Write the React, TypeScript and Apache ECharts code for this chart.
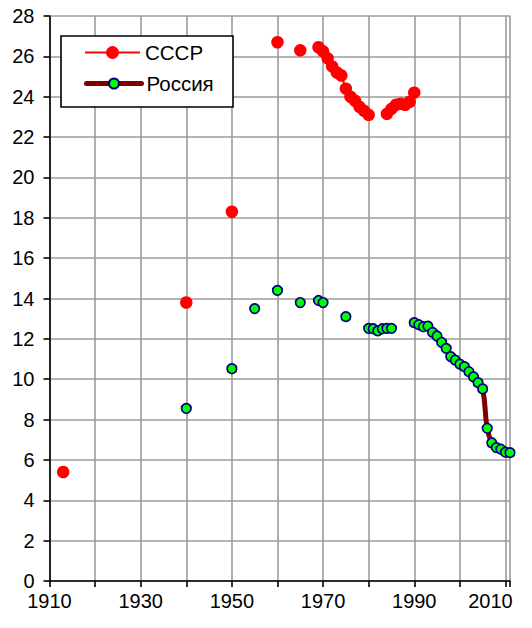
import React, { useEffect, useRef } from 'react';
import * as echarts from 'echarts';

// ---- Data ----
const ussrYears = [1913, 1940, 1950, 1960, 1965, 1969, 1970, 1971, 1972, 1973, 1974, 1975, 1976, 1977, 1978, 1979, 1980, 1984, 1985, 1986, 1987, 1988, 1989, 1990];
const ussrValues = [5.4, 13.8, 18.3, 26.7, 26.3, 26.45, 26.25, 25.9, 25.5, 25.2, 25.05, 24.4, 24.0, 23.8, 23.5, 23.3, 23.1, 23.15, 23.4, 23.6, 23.65, 23.6, 23.75, 24.2];

const russiaYears = [1940, 1950, 1955, 1960, 1965, 1969, 1970, 1975, 1980, 1981, 1982, 1983, 1984, 1985,
  1990, 1991, 1992, 1993, 1994, 1995, 1996, 1997, 1998, 1999, 2000,
  2001, 2002, 2003, 2004, 2005, 2006, 2007, 2008, 2009, 2010, 2011];
const russiaValues = [8.55, 10.52, 13.5, 14.4, 13.8, 13.9, 13.8, 13.1, 12.52, 12.5, 12.4, 12.5, 12.52, 12.52,
  12.8, 12.7, 12.6, 12.63, 12.32, 12.14, 11.83, 11.53, 11.12, 10.95, 10.75,
  10.62, 10.37, 10.12, 9.83, 9.52, 7.57, 6.85, 6.61, 6.53, 6.38, 6.36];

const seriesNames = ['СССР', 'Россия'];
const xTickLabels = ['1910', '1930', '1950', '1970', '1990', '2010'];
const yTickLabels = ['0', '2', '4', '6', '8', '10', '12', '14', '16', '18', '20', '22', '24', '26', '28'];

const FONT = '"Liberation Sans", Arial, Helvetica, sans-serif';
const AXIS_FS = 20;
const LEGEND_FS = 20.5;

function withBreaks(years: number[], values: number[]) {
  const out: any[] = [];
  years.forEach((y, i) => {
    if (i > 0 && y - years[i - 1] > 1) out.push([(y + years[i - 1]) / 2, null]);
    out.push([y, values[i]]);
  });
  return out;
}

export default function App() {
  const ref = useRef<HTMLDivElement>(null);
  useEffect(() => {
    if (!ref.current) return;
    const chart = echarts.init(ref.current, null, { renderer: 'svg' });
    const option: any = {
      animation: false,
      backgroundColor: '#ffffff',
      textStyle: { fontFamily: FONT },
      grid: { left: 49.5, right: 22, top: 16, bottom: 47, containLabel: false },
      xAxis: {
        type: 'value',
        min: 1910,
        max: 2011,
        interval: 10,
        axisLine: { show: true, onZero: false, lineStyle: { color: '#000', width: 1.6 } },
        axisTick: { show: true, inside: false, length: 6, lineStyle: { color: '#000', width: 1.6 } },
        axisLabel: {
          margin: 10,
          color: '#000',
          fontSize: AXIS_FS,
          fontFamily: FONT,
          formatter: (v: number) => {
            const s = String(v);
            if (s === xTickLabels[xTickLabels.length - 1]) return '{r|' + s + '}';
            return xTickLabels.includes(s) ? s : '';
          },
          rich: { r: { padding: [0, 30, 0, 0], fontSize: AXIS_FS, fontFamily: FONT, color: '#000' } },
        },
        splitLine: { show: true, lineStyle: { color: '#9c9c9c', width: 1.6 } },
      },
      yAxis: {
        type: 'value',
        min: 0,
        max: 28,
        interval: 2,
        axisLine: { show: true, lineStyle: { color: '#000', width: 1.6 } },
        axisTick: { show: true, inside: false, length: 6, lineStyle: { color: '#000', width: 1.6 } },
        axisLabel: {
          margin: 15,
          color: '#000',
          fontSize: AXIS_FS,
          fontFamily: FONT,
          formatter: (v: number) => (yTickLabels.includes(String(v)) ? String(v) : ''),
        },
        splitLine: { show: true, lineStyle: { color: '#9c9c9c', width: 1.6 } },
      },
      legend: [
        {
          id: 'l1',
          data: [seriesNames[0]],
          orient: 'vertical',
          left: 84,
          top: 42,
          padding: 0,
          itemWidth: 55,
          itemHeight: 16,
          selectedMode: false,
          textStyle: { fontSize: LEGEND_FS, fontFamily: FONT, color: '#000' },
          lineStyle: { width: 2, color: '#ff0000' },
          z: 5,
        },
        {
          id: 'l2',
          data: [seriesNames[1]],
          orient: 'vertical',
          left: 84,
          top: 73,
          padding: 0,
          itemWidth: 55,
          itemHeight: 12.5,
          selectedMode: false,
          textStyle: { fontSize: LEGEND_FS, fontFamily: FONT, color: '#000' },
          lineStyle: { width: 5, color: '#800000', cap: 'round' },
          z: 5,
        },
      ],
      graphic: [
        {
          type: 'rect',
          z: 3,
          shape: { x: 61, y: 36, width: 172, height: 71 },
          style: { fill: '#ffffff', stroke: '#000000', lineWidth: 1.6 },
        },
      ],
      series: [
        {
          name: seriesNames[0],
          type: 'line',
          data: withBreaks(ussrYears, ussrValues),
          connectNulls: false,
          symbol: 'circle',
          symbolSize: 12.5,
          showAllSymbol: true,
          itemStyle: { color: '#ff0000' },
          lineStyle: { color: '#ff0000', width: 2 },
          z: 2,
        },
        {
          name: seriesNames[1],
          type: 'line',
          data: withBreaks(russiaYears, russiaValues),
          connectNulls: false,
          smooth: 0.5,
          symbol: 'circle',
          symbolSize: 9.5,
          showAllSymbol: true,
          itemStyle: { color: '#00ff00', borderColor: '#000080', borderWidth: 1.7 },
          lineStyle: { color: '#800000', width: 5 },
          z: 3,
        },
      ],
    };
    chart.setOption(option);
    return () => chart.dispose();
  }, []);
  return (
    <div
      ref={ref}
      style={{ position: 'absolute', left: 0, top: 0, width: 532, height: 628, background: '#fff' }}
    />
  );
}
